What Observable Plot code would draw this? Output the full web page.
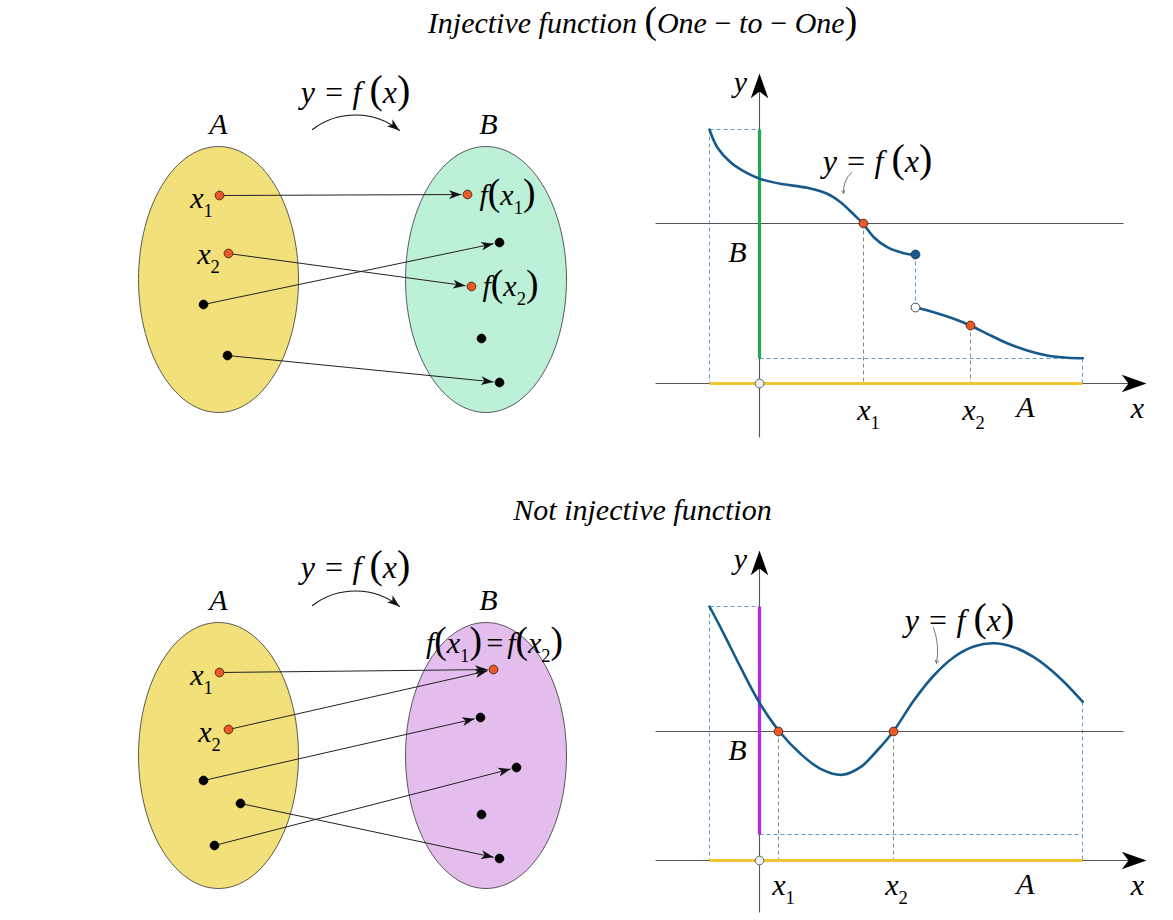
<!DOCTYPE html>
<html>
<head>
<meta charset="utf-8">
<script src="https://cdn.jsdelivr.net/npm/d3@7"></script>
<script src="https://cdn.jsdelivr.net/npm/@observablehq/plot@0.6"></script>
<style>
  html, body { margin: 0; padding: 0; background: #fff; }
  #chart svg { display: block; }
</style>
</head>
<body>
<div id="chart"></div>
<script>
const W = 1173, H = 920;

// ---------- Set diagrams (ovals) ----------
const ovalNames = ["A1", "B1", "A2", "B2"];
const ovalCx = [218, 485.5, 218, 485.5];
const ovalCy = [279, 279, 755, 755];
const ovalRx = [80, 80.5, 80, 80.5];
const ovalRy = [133, 133, 133, 133];
const ovalFill = ["#f2e17a", "#bcf0d7", "#f2e17a", "#e3bdec"];

// elements of the sets: [x, y, kind]  o = highlighted, b = plain
const topDomain = [[219, 195, "o"], [228, 253, "o"], [203, 304, "b"], [227, 355, "b"]];
const topCodomain = [[467, 194, "o"], [499, 242, "b"], [471, 286, "o"], [481, 338, "b"], [499, 382, "b"]];
const topMap = [[0, 0], [1, 2], [2, 1], [3, 4]];

const botDomain = [[219, 672, "o"], [228, 729, "o"], [203, 780, "b"], [240, 803, "b"], [214, 845, "b"]];
const botCodomain = [[493, 669, "o"], [480, 717, "b"], [516, 767, "b"], [481, 814, "b"], [499, 858, "b"]];
const botMap = [[0, 0], [1, 0], [2, 1], [4, 2], [3, 4]];

// "y = f(x)" bent arrows above the sets
const bendArrows = [[312, 129, 399, 130], [312, 605, 399, 606]];

// ---------- Graphs ----------
const curveTopA = [[709,129],[716.7,146.7],[730,161.7],[746.7,172.7],[759.3,178.3],[780,183.3],[806.7,187.3],[826.7,193.3],[840,201.7],[853.3,214],[862.7,223.3],[873.3,236.7],[886.7,246.7],[903.3,252.7],[914.7,254.3]];
const curveTopB = [[914.7,306.7],[933.3,311.7],[953.3,318.3],[969.7,325],[986.7,333.3],[1006.7,342.7],[1026.7,350],[1046.7,355],[1066.7,357.3],[1082.3,357.7]];
const curveBot = [[709,606],[723.3,633.3],[740,666.7],[759.3,702.7],[778.7,730.7],[800,753.3],[820,768.3],[841.7,774.3],[860,766.7],[876.7,750],[893,730.7],[913.3,700],[933.3,675],[953.3,656.7],[973.3,646],[993.3,642.7],[1013.3,646.7],[1033.3,656.7],[1056.7,675],[1082.3,701.3]];

const axisLines = [[655,383,1140,383],[759,437,759,80],[655,860,1140,860],[759,912,759,557]];
const levelLines = [[655,223,1123,223],[655,731,1123,731]];
const axisHeads = [[1146,383,0],[759,73,-90],[1146,860,0],[759,550,-90]];
const blueDashed = [[709,129,709,383],[709,129,759,129],[759,358,1082,358],[1082,358,1082,383],[915,254,915,307],
                    [709,606,709,860],[709,606,759,606],[759,834,1082,834],[1082,701,1082,860]];
const grayDashed = [[863,223,863,383],[970,325,970,383],[778,731,778,860],[893,731,893,860]];
const rangeSegs = [[759,129,759,358,"#1fa84f"],[759,606,759,834,"#b826ea"]];
const domainSegs = [[709,383,1082,383],[709,860,1082,860]];
const graphHits = [[863,223],[970,325],[778,731],[893,731]];
const closedEnd = [[915,254]];
const openEnd = [[915,307]];
const origins = [[759,383],[759,860]];
const leaders = [[851,172,843,193],[933,627,936,663]];
const leaderBend = [-25, 15];

// ---------- Labels ----------
const labelText = [
  "Injective function (One\u2009−\u2009to\u2009−\u2009One)", "Not injective function",
  "y = f (x)", "A", "B", "x_1", "x_2", "f(x_1)", "f(x_2)",
  "y", "x", "B", "x_1", "x_2", "A", "y = f (x)",
  "y = f (x)", "A", "B", "f(x_1)\u200a=\u200af(x_2)", "x_1", "x_2",
  "y", "x", "B", "x_1", "x_2", "A", "y = f (x)"
];
const labelX = [642, 642,
  355, 218, 488, 201, 208, 507, 510,
  740, 1137, 737, 868, 973, 1025, 877,
  355, 218, 488, 494, 201, 209,
  740, 1137, 737, 783, 896, 1025, 959];
const labelY = [23, 510,
  92, 124, 124, 198, 254, 195, 286,
  82, 408, 252, 410, 410, 407, 161,
  567, 600, 600, 643, 675, 732,
  559, 885, 750, 885, 885, 884, 620];
const labelSize = [30, 30,
  32, 30, 30, 30, 30, 30, 30,
  30, 30, 30, 30, 30, 30, 32,
  32, 30, 30, 30, 30, 30,
  30, 30, 30, 30, 30, 30, 32];

// ---------- build tables ----------
const seg = a => ({x1: a[0], y1: a[1], x2: a[2], y2: a[3]});
const pt = a => ({x: a[0], y: a[1]});
const ovalPts = ovalNames.flatMap((n, i) => d3.range(0, 121).map(k => {
  const t = (k / 120) * 2 * Math.PI;
  return {name: n, x: ovalCx[i] + ovalRx[i] * Math.cos(t), y: ovalCy[i] + ovalRy[i] * Math.sin(t)};
}));

function mapping(dom, cod, map) {
  return map.map(([i, j]) => {
    const [x1, y1] = dom[i], [x2, y2] = cod[j];
    const dx = x2 - x1, dy = y2 - y1, L = Math.hypot(dx, dy);
    const tx = x2 - dx / L * 6, ty = y2 - dy / L * 6;
    return {x1, y1, x2: tx, y2: ty, angle: Math.atan2(dy, dx) * 180 / Math.PI};
  });
}
const arrows = [...mapping(topDomain, topCodomain, topMap), ...mapping(botDomain, botCodomain, botMap)];
const setDots = [...topDomain, ...topCodomain, ...botDomain, ...botCodomain].map(d => ({x: d[0], y: d[1], kind: d[2]}));
const BEND = 38;
const bendHeads = bendArrows.map(a => ({x: a[2], y: a[3], angle: Math.atan2(a[3] - a[1], a[2] - a[0]) * 180 / Math.PI + BEND}));
const labels = labelText.map((t, i) => ({t, x: labelX[i], y: labelY[i], s: labelSize[i]}));

const stealth = {
  draw(ctx, size) {
    const s = Math.sqrt(size / Math.PI) / 5;
    ctx.moveTo(0, 0);
    ctx.lineTo(-13 * s, -4.6 * s);
    ctx.lineTo(-9.5 * s, 0);
    ctx.lineTo(-13 * s, 4.6 * s);
    ctx.closePath();
  }
};

const SERIF = "Liberation Serif";
const BLUE = "#155a8a";
const ORANGE = "#ea5a28";

const plot = Plot.plot({
  width: W, height: H, margin: 0,
  x: {domain: [0, W], range: [0, W], axis: null},
  y: {domain: [0, H], range: [0, H], axis: null},
  style: {background: "white", overflow: "visible"},
  marks: [
    // ovals
    ...ovalNames.map((n, i) => Plot.line(ovalPts.filter(d => d.name === n),
      {x: "x", y: "y", fill: ovalFill[i], stroke: "#333", strokeWidth: 0.8})),
    // mapping arrows
    Plot.link(arrows, {x1: "x1", y1: "y1", x2: "x2", y2: "y2", stroke: "#222", strokeWidth: 1}),
    Plot.dot(arrows, {x: "x2", y: "y2", rotate: "angle", symbol: stealth, r: 4.8, fill: "#111", stroke: "none"}),
    Plot.dot(setDots, {x: "x", y: "y", r: 4.4, fill: d => d.kind === "o" ? ORANGE : "#000",
      stroke: d => d.kind === "o" ? "#3a1a0a" : "#000", strokeWidth: 0.8}),
    // bend arrows
    Plot.arrow(bendArrows.map(seg), {x1: "x1", y1: "y1", x2: "x2", y2: "y2", bend: BEND, headLength: 0, stroke: "#111", strokeWidth: 1.1}),
    Plot.dot(bendHeads, {x: "x", y: "y", rotate: "angle", symbol: stealth, r: 4.8, fill: "#111", stroke: "none"}),

    // graphs: dashed guides
    Plot.link(blueDashed.map(seg), {x1: "x1", y1: "y1", x2: "x2", y2: "y2", stroke: "#5d9fd2", strokeWidth: 1, strokeDasharray: "4,3"}),
    Plot.link(grayDashed.map(seg), {x1: "x1", y1: "y1", x2: "x2", y2: "y2", stroke: "#8a8a8a", strokeWidth: 1, strokeDasharray: "4,3"}),
    // axes and level lines
    Plot.link(axisLines.map(seg), {x1: "x1", y1: "y1", x2: "x2", y2: "y2", stroke: "#555", strokeWidth: 1.1}),
    Plot.link(levelLines.map(seg), {x1: "x1", y1: "y1", x2: "x2", y2: "y2", stroke: "#555", strokeWidth: 1.1}),
    Plot.dot(axisHeads.map(a => ({x: a[0], y: a[1], angle: a[2]})), {x: "x", y: "y", rotate: "angle", symbol: stealth, r: 9.5, fill: "#000", stroke: "none"}),
    // domain / range segments
    Plot.link(domainSegs.map(seg), {x1: "x1", y1: "y1", x2: "x2", y2: "y2", stroke: "#f0c634", strokeWidth: 3.2}),
    Plot.link(rangeSegs.map(a => ({...seg(a), c: a[4]})), {x1: "x1", y1: "y1", x2: "x2", y2: "y2", stroke: d => d.c, strokeWidth: 3.2}),
    // curves
    Plot.line(curveTopA.map(pt), {x: "x", y: "y", curve: "catmull-rom", stroke: BLUE, strokeWidth: 2.6}),
    Plot.line(curveTopB.map(pt), {x: "x", y: "y", curve: "catmull-rom", stroke: BLUE, strokeWidth: 2.6}),
    Plot.line(curveBot.map(pt), {x: "x", y: "y", curve: "catmull-rom", stroke: BLUE, strokeWidth: 2.6}),
    // leaders
    ...leaders.map((a, i) => Plot.arrow([seg(a)], {x1: "x1", y1: "y1", x2: "x2", y2: "y2", bend: leaderBend[i], headLength: 5, stroke: "#777", strokeWidth: 1})),
    // points on graphs
    Plot.dot(graphHits.map(pt), {x: "x", y: "y", r: 4.4, fill: ORANGE, stroke: "#3a1a0a", strokeWidth: 0.8}),
    Plot.dot(closedEnd.map(pt), {x: "x", y: "y", r: 4.4, fill: BLUE, stroke: "#0a2a44", strokeWidth: 0.8}),
    Plot.dot(openEnd.map(pt), {x: "x", y: "y", r: 4.4, fill: "#fff", stroke: "#333", strokeWidth: 0.9}),
    Plot.dot(origins.map(pt), {x: "x", y: "y", r: 4.4, fill: "#eef0ee", stroke: "#555", strokeWidth: 0.9}),
    // labels
    ...[30, 32].map(sz => Plot.text(labels.filter(d => d.s === sz), {x: "x", y: "y", text: "t",
      fontSize: sz, fontFamily: SERIF, fontStyle: "italic", fill: "#000", textAnchor: "middle"}))
  ]
});

// turn "_1" into subscripts and make parentheses upright and larger
function richify(svg) {
  svg.querySelectorAll("text").forEach(t => {
    const s = t.textContent;
    if (!/[_()]/.test(s)) return;
    while (t.firstChild) t.removeChild(t.firstChild);
    let pending = 0;
    const re = /_(\d)|([()])|([^_()]+)/g;
    let m;
    while ((m = re.exec(s))) {
      const ts = document.createElementNS("http://www.w3.org/2000/svg", "tspan");
      let scale = 1;
      if (m[1]) {
        scale = 0.62;
        ts.textContent = m[1];
        ts.setAttribute("font-size", "0.62em");
        ts.style.fontStyle = "normal";
        ts.setAttribute("dy", ((0.31 + pending) / scale).toFixed(3) + "em");
        pending = -0.31;
      } else {
        if (m[2]) {
          scale = 1.25;
          ts.textContent = m[2];
          ts.setAttribute("font-size", "1.25em");
          ts.style.fontStyle = "normal";
        } else {
          ts.textContent = m[3];
        }
        if (pending) ts.setAttribute("dy", (pending / scale).toFixed(3) + "em");
        pending = 0;
      }
      t.appendChild(ts);
    }
  });
}

document.getElementById("chart").appendChild(plot);
richify(plot);
</script>
</body>
</html>
